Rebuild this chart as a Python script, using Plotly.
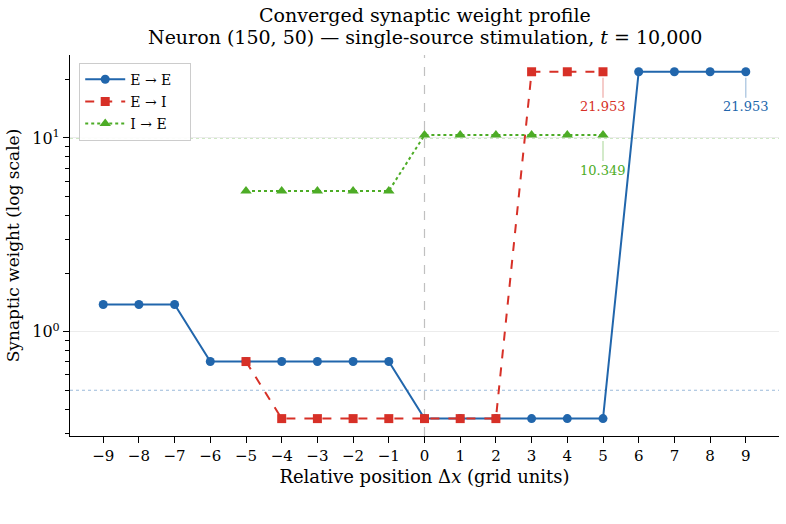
import math
import plotly.graph_objects as go

x_vals = list(range(-9, 10))
x_tick_labels = ["\u22129", "\u22128", "\u22127", "\u22126", "\u22125", "\u22124", "\u22123", "\u22122", "\u22121",
                 "0", "1", "2", "3", "4", "5", "6", "7", "8", "9"]

ee_x = list(range(-9, 10))
ee_y = [1.385, 1.385, 1.385, 0.703, 0.703, 0.703, 0.703, 0.703, 0.703,
        0.357, 0.357, 0.357, 0.357, 0.357, 0.357, 21.953, 21.953, 21.953, 21.953]

ei_x = list(range(-5, 6))
ei_y = [0.703, 0.357, 0.357, 0.357, 0.357, 0.357, 0.357, 0.357, 21.953, 21.953, 21.953]

ie_x = list(range(-5, 6))
ie_y = [5.33, 5.33, 5.33, 5.33, 5.33, 10.349, 10.349, 10.349, 10.349, 10.349, 10.349]

ref_green = 10.0
ref_blue = 0.5

y_tick_vals = [1, 10]
y_tick_labels = ["10<sup>0</sup>", "10<sup>1</sup>"]
minor_vals = [0.3, 0.4, 0.5, 0.6, 0.7, 0.8, 0.9, 2, 3, 4, 5, 6, 7, 8, 9, 20]

series_names = ["E \u2192 E", "E \u2192 I", "I \u2192 E"]
title_line1 = "Converged synaptic weight profile"
title_line2 = "Neuron (150, 50) \u2014 single-source stimulation, <i>t</i> = 10,000"

BLUE = "#2166ac"
RED = "#d73027"
GREEN = "#4dac26"
FONT = "DejaVu Serif"
PAD = "\u00a0\u00a0\u00a0"

fig = go.Figure()
fig.add_trace(go.Scatter(x=ee_x, y=ee_y, mode="lines+markers", name=series_names[0] + PAD, legendgroup="a",
                         line=dict(color=BLUE, width=2),
                         marker=dict(symbol="circle", size=9, color=BLUE)))
fig.add_trace(go.Scatter(x=ei_x, y=ei_y, mode="lines+markers", name=series_names[1] + PAD, legendgroup="b",
                         line=dict(color=RED, width=2, dash="dash"),
                         marker=dict(symbol="square", size=9, color=RED)))
fig.add_trace(go.Scatter(x=ie_x, y=ie_y, mode="lines+markers", name=series_names[2] + PAD, legendgroup="c",
                         line=dict(color=GREEN, width=2, dash="dot"),
                         marker=dict(symbol="triangle-up", size=10, color=GREEN)))

# reference lines
fig.add_shape(type="line", xref="paper", x0=0, x1=1, y0=ref_green, y1=ref_green,
              line=dict(color="rgba(77,172,38,0.55)", width=1, dash="dot"), layer="below")
fig.add_shape(type="line", xref="paper", x0=0, x1=1, y0=ref_blue, y1=ref_blue,
              line=dict(color="rgba(33,102,172,0.45)", width=1, dash="dot"), layer="below")
fig.add_shape(type="line", yref="paper", x0=0, x1=0, y0=0, y1=1,
              line=dict(color="rgba(150,150,150,0.6)", width=1.2, dash="dash"), layer="below")

# end-value annotations
def end_note(xv, yv, color, rgba):
    fig.add_annotation(x=xv, y=math.log10(yv), xref="x", yref="y", text=f"{yv:.3f}", showarrow=True,
                       arrowhead=0, arrowwidth=1.2, arrowcolor=rgba, ax=0, ay=35,
                       standoff=6, font=dict(family=FONT, size=13, color=color))

end_note(ee_x[-1], ee_y[-1], BLUE, "rgba(33,102,172,0.4)")
end_note(ei_x[-1], ei_y[-1], RED, "rgba(215,48,39,0.4)")
end_note(ie_x[-1], ie_y[-1], GREEN, "rgba(77,172,38,0.4)")

# title (two lines)
fig.add_annotation(xref="paper", yref="paper", x=0.5, y=1.105, xanchor="center", yanchor="middle",
                   text=title_line1, showarrow=False, font=dict(family=FONT, size=19, color="black"))
fig.add_annotation(xref="paper", yref="paper", x=0.5, y=1.047, xanchor="center", yanchor="middle",
                   text=title_line2, showarrow=False, font=dict(family=FONT, size=19, color="black"))

fig.update_layout(
    width=786, height=524,
    paper_bgcolor="white", plot_bgcolor="white",
    margin=dict(l=70, r=7, t=55, b=88),
    font=dict(family=FONT, size=14, color="black"),
    showlegend=True,
    legend=dict(x=0.013, y=0.98, xanchor="left", yanchor="top", itemwidth=40,
                tracegroupgap=1,
                bgcolor="rgba(255,255,255,0.9)", bordercolor="#cccccc", borderwidth=1,
                font=dict(family=FONT, size=14)),
    xaxis=dict(range=[-9.93, 9.93], tickvals=x_vals, ticktext=x_tick_labels,
               showgrid=False, zeroline=False, showline=True, linecolor="black", linewidth=1.2,
               ticks="outside", ticklen=6, tickcolor="black",
               tickfont=dict(family=FONT, size=15),
               title=dict(text="Relative position \u0394<i>x</i> (grid units)", font=dict(family=FONT, size=18),
                          standoff=6)),
    yaxis=dict(type="log", range=[-0.537, 1.428], tickvals=y_tick_vals, ticktext=y_tick_labels,
               showgrid=True, gridcolor="#ececec", gridwidth=1, zeroline=False,
               showline=True, linecolor="black", linewidth=1.2,
               ticks="outside", ticklen=6, tickcolor="black",
               tickfont=dict(family=FONT, size=16),
               minor=dict(tickvals=minor_vals, ticks="outside", ticklen=3.5, tickcolor="black", showgrid=False),
               title=dict(text="Synaptic weight (log scale)", font=dict(family=FONT, size=17), standoff=8)),
)

fig.write_html("out.html")
